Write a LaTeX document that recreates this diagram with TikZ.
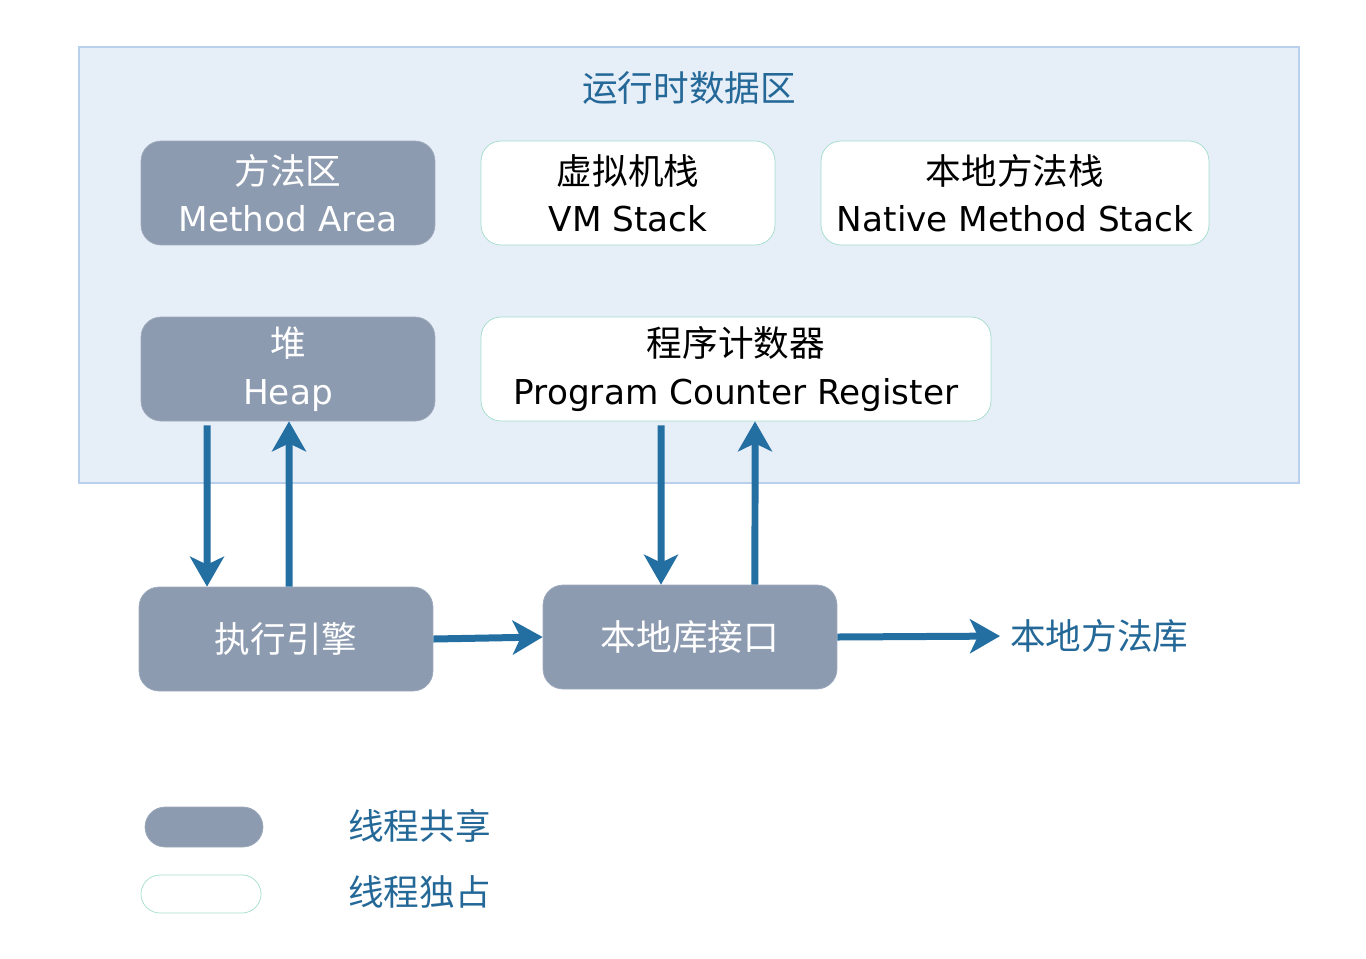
\documentclass[tikz,border=0pt]{standalone}
\usepackage{fontspec}
\setmainfont{DejaVu Sans}
\newfontfamily\cjk[Scale=1.04]{Noto Sans CJK SC}
\usetikzlibrary{arrows.meta}
\definecolor{areafill}{RGB}{230,238,248}
\definecolor{arealine}{RGB}{184,208,236}
\definecolor{sharedfill}{RGB}{141,155,176}
\definecolor{privline}{RGB}{162,221,202}
\definecolor{flowblue}{RGB}{35,111,161}
\definecolor{labelblue}{RGB}{36,104,152}
\newcommand{\boxfont}{\fontsize{19.5}{27}\selectfont}
\tikzset{
  sharedbox/.style={rounded corners=0.4cm,fill=sharedfill,draw=sharedfill!85!white,
                    text=white,minimum height=2.08cm,inner sep=0pt,align=center,
                    font=\boxfont},
  privbox/.style={sharedbox,fill=white,draw=privline,text=black},
  flow/.style={-{Stealth[length=0.6cm,width=0.68cm,inset=0.16cm]},draw=flowblue,
               line width=0.14cm},
  tag/.style={text=labelblue,inner sep=0pt,font=\boxfont\cjk},
}

\begin{document}
\begin{tikzpicture}[x=0.02cm,y=-0.02cm]
  \useasboundingbox (0,0) rectangle (1366,958);
  % runtime data area
  \draw[fill=areafill,draw=arealine,line width=0.8pt] (79,47) rectangle (1299,483);
  \node[tag] (title) at (689,88) {运行时数据区};

  \node[sharedbox,minimum width=5.88cm] (method) at (288,193) {{\cjk 方法区}\\Method Area};
  \node[privbox,minimum width=5.88cm] (vmstack) at (628,193) {{\cjk 虚拟机栈}\\VM Stack};
  \node[privbox,minimum width=7.76cm] (native) at (1015,193) {{\cjk 本地方法栈}\\Native Method Stack};
  \node[sharedbox,minimum width=5.88cm] (heap) at (288,369) {{\cjk 堆}\\Heap};
  \node[privbox,minimum width=10.2cm] (pc) at (736,369)
    {{\cjk 程序计数器}\\Program Counter Register};

  % outside the area
  \node[sharedbox,minimum width=5.88cm,font=\boxfont\cjk] (engine) at (286,639) {执行引擎};
  \node[sharedbox,minimum width=5.88cm,font=\boxfont\cjk] (nif) at (690,637) {本地库接口};
  \node[tag,anchor=west] (nlib) at (1010,636) {本地方法库};

  \draw[flow,shorten <=0.08cm] ([xshift=-1.62cm]heap.south) -- ([xshift=-1.58cm]engine.north);
  \draw[flow] ([xshift=0.06cm]engine.north) -- ([xshift=0.02cm]heap.south);
  \draw[flow,shorten <=0.08cm] ([xshift=-1.5cm]pc.south) -- ([xshift=-0.58cm]nif.north);
  \draw[flow] ([xshift=1.3cm]nif.north) -- ([xshift=0.38cm]pc.south);
  \draw[flow] (engine.east) -- (nif.west);
  \draw[flow,shorten >=0.2cm] (nif.east) -- (nlib.west);

  % legend
  \node[sharedbox,minimum width=2.36cm,minimum height=0.8cm] (keyshared) at (204,827) {};
  \node[tag,anchor=west] (keysharedtext) at (348,826) {线程共享};
  \node[privbox,minimum width=2.4cm,minimum height=0.76cm,rounded corners=0.38cm]
    (keypriv) at (201,894) {};
  \node[tag,anchor=west] (keyprivtext) at (348,892) {线程独占};
\end{tikzpicture}
\end{document}
